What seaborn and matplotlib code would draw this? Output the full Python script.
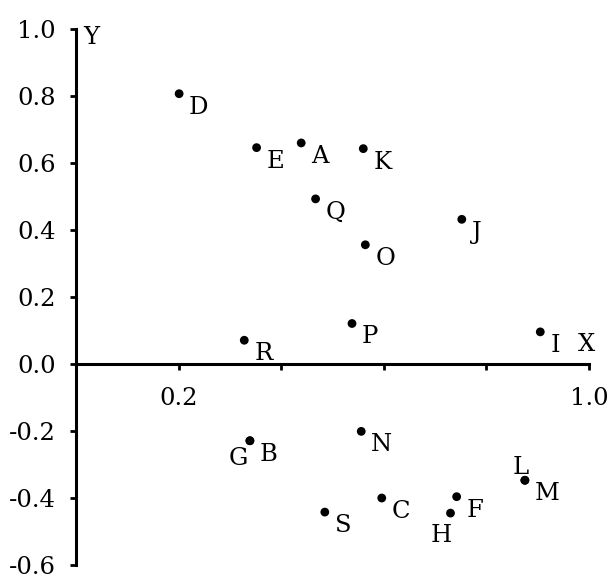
import matplotlib
matplotlib.use("Agg")
import matplotlib.pyplot as plt
import seaborn as sns
import pandas as pd

labels = ["D", "E", "A", "K", "Q", "O", "J", "R", "P", "I", "B", "G", "N", "S", "C", "F", "H", "M", "L"]
x_vals = [0.201, 0.352, 0.439, 0.560, 0.467, 0.564, 0.752, 0.328, 0.538, 0.905, 0.339, 0.339, 0.556, 0.485, 0.596, 0.742, 0.730, 0.875, 0.875]
y_vals = [0.807, 0.646, 0.660, 0.643, 0.493, 0.356, 0.432, 0.071, 0.121, 0.096, -0.229, -0.229, -0.201, -0.442, -0.400, -0.396, -0.445, -0.347, -0.347]

x_ticks = [0.2, 0.4, 0.6, 0.8, 1.0]
x_tick_labels = ["0.2", "", "", "", "1.0"]
y_ticks = [-0.6, -0.4, -0.2, 0.0, 0.2, 0.4, 0.6, 0.8, 1.0]
y_tick_labels = ["-0.6", "-0.4", "-0.2", "0.0", "0.2", "0.4", "0.6", "0.8", "1.0"]

df = pd.DataFrame({"label": labels, "x": x_vals, "y": y_vals})

sns.set_theme(style="white")
plt.rcParams["font.family"] = ["DejaVu Serif", "Liberation Serif"]
FS = 17.5

fig = plt.figure(figsize=(6.10, 5.81), dpi=100)
ax = fig.add_axes([0.1246, 0.0275, 0.8410, 0.9225])

sns.scatterplot(data=df, x="x", y="y", color="black", s=40, edgecolor="none", ax=ax, zorder=3)

# label placement (offsets in pixels from the point)
default_off = (10, -20, "left")
special_off = {"G": (-2, -24, "right"), "L": (4, 6, "right"), "H": (-9, -29, "center")}
for _, row in df.iterrows():
    dx, dy, ha = special_off.get(row["label"], default_off)
    ax.annotate(row["label"], (row["x"], row["y"]), xytext=(dx, dy),
                textcoords="offset pixels", ha=ha, va="baseline",
                fontsize=FS, color="black")

ax.set_xlim(0, 1.0)
ax.set_ylim(-0.6, 1.0)
ax.spines["left"].set_position(("data", 0))
ax.spines["bottom"].set_position(("data", 0))
ax.spines["right"].set_visible(False)
ax.spines["top"].set_visible(False)
for s in ("left", "bottom"):
    ax.spines[s].set_linewidth(2.2)
    ax.spines[s].set_color("black")

ax.set_xticks(x_ticks)
ax.set_xticklabels(x_tick_labels)
ax.set_yticks(y_ticks)
ax.set_yticklabels(y_tick_labels)
ax.tick_params(axis="both", which="major", direction="out", length=4.5, width=2.0,
               color="black", labelsize=FS, labelcolor="black")
ax.tick_params(axis="x", pad=12, bottom=True)
ax.tick_params(axis="y", pad=10, left=True)
ax.set_xlabel("")
ax.set_ylabel("")
ax.grid(False)

ax.annotate("Y", (0.0, 1.0), xytext=(7, 3), textcoords="offset pixels",
            ha="left", va="top", fontsize=FS, color="black")
ax.annotate("X", (1.0, 0.0), xytext=(-3, 13), textcoords="offset pixels",
            ha="center", va="baseline", fontsize=FS, color="black")

fig.savefig("out.png", dpi=100)
